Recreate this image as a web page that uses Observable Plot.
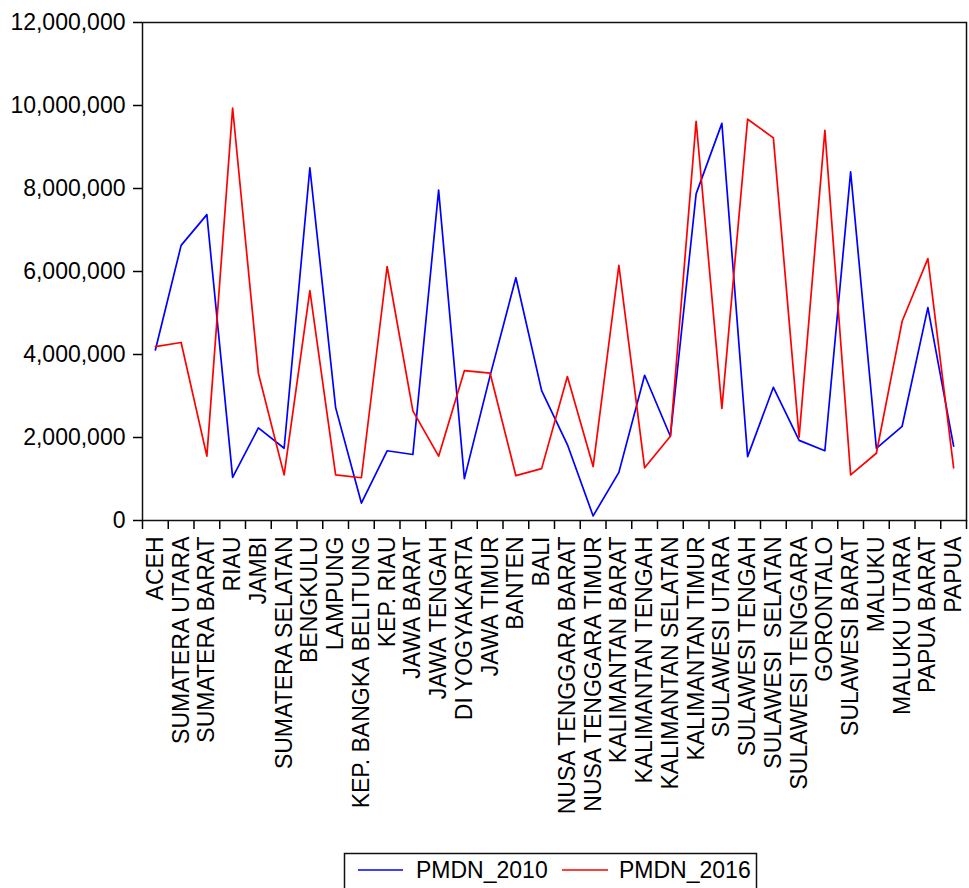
<!DOCTYPE html>
<html>
<head>
<meta charset="utf-8">
<script src="https://cdn.jsdelivr.net/npm/d3@7"></script>
<script src="https://cdn.jsdelivr.net/npm/@observablehq/plot@0.6"></script>
<style>
  html, body { margin: 0; padding: 0; background: #fff; }
  #chart svg { display: block; }
</style>
</head>
<body>
<div id="chart"></div>
<script>
// Provinces in the order they appear along the axis
const provinces = [
  "ACEH", "SUMATERA UTARA", "SUMATERA BARAT", "RIAU", "JAMBI",
  "SUMATERA SELATAN", "BENGKULU", "LAMPUNG", "KEP. BANGKA BELITUNG", "KEP. RIAU",
  "JAWA BARAT", "JAWA TENGAH", "DI YOGYAKARTA", "JAWA TIMUR", "BANTEN",
  "BALI", "NUSA TENGGARA BARAT", "NUSA TENGGARA TIMUR", "KALIMANTAN BARAT", "KALIMANTAN TENGAH",
  "KALIMANTAN SELATAN", "KALIMANTAN TIMUR", "SULAWESI UTARA", "SULAWESI TENGAH", "SULAWESI\u00a0 SELATAN",
  "SULAWESI TENGGARA", "GORONTALO", "SULAWESI BARAT", "MALUKU", "MALUKU UTARA",
  "PAPUA BARAT", "PAPUA"
];

// Domestic investment (PMDN), 2010
const pmdn2010 = [
  4110000, 6630000, 7370000, 1040000, 2230000,
  1740000, 8500000, 2720000, 420000, 1680000,
  1590000, 7960000, 1010000, 3490000, 5850000,
  3130000, 1830000, 110000, 1160000, 3500000,
  2030000, 7870000, 9570000, 1540000, 3210000,
  1930000, 1680000, 8400000, 1740000, 2270000,
  5130000, 1790000
];

// Domestic investment (PMDN), 2016
const pmdn2016 = [
  4190000, 4290000, 1550000, 9940000, 3550000,
  1100000, 5540000, 1100000, 1030000, 6120000,
  2640000, 1550000, 3610000, 3550000, 1080000,
  1250000, 3470000, 1300000, 6150000, 1270000,
  2030000, 9620000, 2700000, 9670000, 9220000,
  2010000, 9400000, 1100000, 1620000, 4800000,
  6310000, 1270000
];

const yTicks = [0, 2000000, 4000000, 6000000, 8000000, 10000000, 12000000];

const seriesNames = ["PMDN_2010", "PMDN_2016"];
const seriesColors = ["#0000ff", "#ff0000"];

const rows = [];
provinces.forEach((p, i) => {
  rows.push({i, province: p, series: seriesNames[0], value: pmdn2010[i]});
  rows.push({i, province: p, series: seriesNames[1], value: pmdn2016[i]});
});

const font = "'Liberation Sans', Arial, Helvetica, sans-serif";

const chart = Plot.plot({
  width: 969,
  height: 840,
  marginLeft: 142,
  marginRight: 3,
  marginTop: 22,
  marginBottom: 320,
  style: {fontFamily: font, fontSize: "23px", color: "#000", background: "#fff", overflow: "visible"},
  x: {type: "linear", domain: [-0.5, provinces.length - 0.5]},
  y: {domain: [0, 12000000]},
  color: {domain: seriesNames, range: seriesColors},
  marks: [
    Plot.axisY({
      ticks: yTicks, tickSize: 9, tickPadding: 8,
      tickFormat: d3.format(","), label: null, strokeWidth: 1.5
    }),
    // tick marks at the boundaries between provinces
    Plot.axisX({
      ticks: d3.range(provinces.length + 1).map(k => k - 0.5),
      tickSize: 9, tickFormat: () => "", label: null, strokeWidth: 1.5
    }),
    // province names centred on each data point
    Plot.axisX({
      ticks: d3.range(provinces.length),
      tickSize: 0, tickPadding: 16, tickRotate: -90,
      tickFormat: i => provinces[i], label: null
    }),
    Plot.line(rows, {x: "i", y: "value", z: "series", stroke: "series", strokeWidth: 1.7}),
    Plot.frame({stroke: "#111", strokeWidth: 1.5})
  ]
});

document.getElementById("chart").appendChild(chart);

// Legend below the chart
const legend = d3.select("#chart").append("svg")
  .attr("width", 969).attr("height", 48)
  .style("display", "block")
  .style("font-family", font);

legend.append("rect")
  .attr("x", 344.5).attr("y", 13.5)
  .attr("width", 412).attr("height", 60)
  .attr("fill", "none").attr("stroke", "#111").attr("stroke-width", 1.5);

const items = [
  {name: seriesNames[0], color: seriesColors[0], x0: 358, x1: 403, tx: 416},
  {name: seriesNames[1], color: seriesColors[1], x0: 562, x1: 608, tx: 619}
];
items.forEach(d => {
  legend.append("line")
    .attr("x1", d.x0).attr("x2", d.x1).attr("y1", 30).attr("y2", 30)
    .attr("stroke", d.color).attr("stroke-width", 1.5);
  legend.append("text")
    .attr("x", d.tx).attr("y", 30).attr("dy", "0.36em")
    .attr("font-size", 23).attr("fill", "#000")
    .text(d.name);
});
</script>
</body>
</html>
